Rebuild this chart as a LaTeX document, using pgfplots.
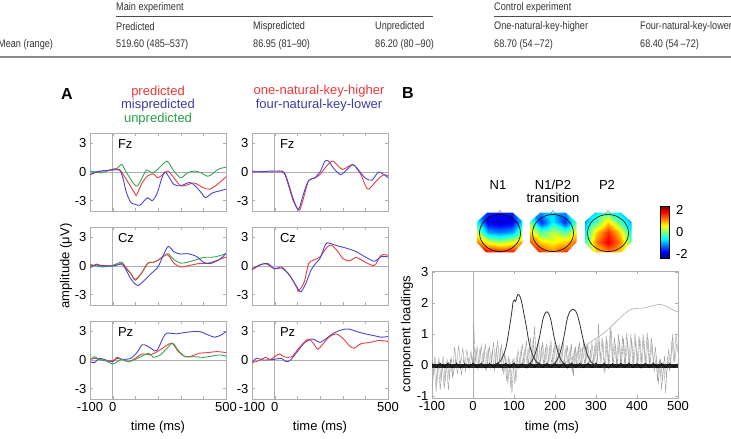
\documentclass[border=0pt]{standalone}
\usepackage{pgfplots}
\pgfplotsset{compat=1.18}
\usepackage{fontspec}
\setmainfont{Liberation Sans}
\newfontfamily\cond[FakeStretch=0.83]{Liberation Sans}
\definecolor{lred}{RGB}{232,60,60}
\definecolor{lblue}{RGB}{70,70,215}
\definecolor{lgreen}{RGB}{55,165,85}
\definecolor{tred}{RGB}{235,55,55}
\definecolor{tblue}{RGB}{60,60,165}
\definecolor{tgreen}{RGB}{40,160,70}
\definecolor{fgray}{RGB}{175,175,175}
\definecolor{ggray}{RGB}{160,160,160}
\newcommand{\fs}{\fontsize{13}{15}\selectfont}
\pgfplotsset{
 erp/.style={anchor=north west, scale only axis, width=136pt, height=78pt,
  xmin=-100,xmax=500,ymin=-4.1,ymax=4.1,
  xtick={-100,0,100,200,300,400,500}, xticklabels={}, ytick={-3,0,3}, yticklabels={-3,0,3},
  axis line style={draw=fgray}, tick style={fgray}, major tick length=3pt, tick align=inside,
  tick label style={font=\fs}, /pgf/number format/assume math mode=true,
  every axis plot/.append style={line width=0.9pt}},
 lastrow/.style={xticklabels={-100,0,,,,,500}},
 topo/.style={anchor=south west, scale only axis, width=47pt, height=41pt, hide axis,
  xmin=-1,xmax=1,ymin=-1,ymax=1, view={0}{90}, colormap/jet,
  point meta min=-2.35, point meta max=2.4, clip=false},
}
\newcommand{\zerolines}{%
 \addplot[fgray, line width=0.5pt] coordinates {(0,-4.1) (0,4.1)};
 \addplot[fgray, line width=0.5pt] coordinates {(-100,0) (500,0)};}
\newcommand{\topomask}{%
 \fill[white, even odd rule] (axis cs:-1.3,-1.3,0) rectangle (axis cs:1.3,1.3,0)
   (axis cs:-0.55,0.95,0) -- (axis cs:0.55,0.95,0) -- (axis cs:1,0.5,0) -- (axis cs:1,-0.5,0)
   -- (axis cs:0.6,-1,0) -- (axis cs:-0.6,-1,0) -- (axis cs:-1,-0.5,0) -- (axis cs:-1,0.5,0) -- cycle;
 \draw[black, line width=0.6pt] (axis cs:0,-0.05,0) ellipse [x radius=20.5pt, y radius=18.5pt];
 \draw[gray, line width=0.4pt] (axis cs:-0.1,0.9,0) -- (axis cs:0,1.05,0) -- (axis cs:0.1,0.9,0);}
\begin{document}
\begin{tikzpicture}
\path[use as bounding box] (0pt,0pt) rectangle (731pt,439pt);
% ---------------- table ----------------
\begin{scope}[every node/.style={font=\cond\fontsize{11}{13}\selectfont, text=black!80, anchor=west, inner sep=0pt}]
\node at (116pt,431.5pt) {Main experiment};
\node at (494pt,431.5pt) {Control experiment};
\draw[black!70, line width=0.6pt] (116pt,423pt) -- (433pt,423pt);
\draw[black!70, line width=0.6pt] (494pt,423pt) -- (731pt,423pt);
\node at (116pt,412pt) {Predicted};
\node at (253pt,412pt) {Mispredicted};
\node at (375pt,412pt) {Unpredicted};
\node at (494pt,412pt) {One-natural-key-higher};
\node at (640pt,412pt) {Four-natural-key-lower};
\node at (-2pt,394pt) {Mean (range)};
\node at (116pt,394pt) {519.60 (485–537)};
\node at (253pt,394pt) {86.95 (81–90)};
\node at (375pt,394pt) {86.20 (80\,–90)};
\node at (494pt,394pt) {68.70 (54\,–72)};
\node at (640pt,394pt) {68.40 (54\,–72)};
\draw[black!45, line width=1.8pt] (0pt,382pt) -- (731pt,382pt);
\end{scope}
% ---------------- labels ----------------
\node[font=\fontsize{16}{18}\selectfont\bfseries] at (67pt,345pt) {A};
\node[font=\fontsize{16}{18}\selectfont\bfseries] at (408pt,346pt) {B};
\node[font=\fs, text=tred] at (158pt,347pt) {predicted};
\node[font=\fs, text=tblue] at (158pt,334pt) {mispredicted};
\node[font=\fs, text=tgreen] at (158pt,320pt) {unpredicted};
\node[font=\fs, text=tred] at (319pt,348pt) {one-natural-key-higher};
\node[font=\fs, text=tblue] at (319pt,334pt) {four-natural-key-lower};
\node[font=\fs, rotate=90] at (66pt,173pt) {amplitude (μV)};
\node[font=\fs] at (158pt,12pt) {time (ms)};
\node[font=\fs] at (320pt,12pt) {time (ms)};
\node[font=\fs] at (552pt,12pt) {time (ms)};
\node[font=\fs, rotate=90] at (407pt,105pt) {component loadings};
\node[font=\fs] at (498pt,254pt) {N1};
\node[font=\fs] at (553pt,254pt) {N1/P2};
\node[font=\fs] at (553pt,241pt) {transition};
\node[font=\fs] at (607pt,254pt) {P2};
% ---------------- Panel A col 1 ----------------
\begin{axis}[erp, at={(90pt,306pt)}]
\zerolines
\node[font=\fs, anchor=west] at (axis cs:8,2.9) {Fz};
\addplot[lgreen, smooth] coordinates {(-100,0.1)(-75,0.0)(-50,-0.1)(-25,0.1)(0,0.3)(20,0.4)(40,0.8)(55,0.2)(75,-0.6)(95,-1.3)(110,-1.45)(130,-0.6)(150,0.2)(175,-0.1)(200,0.3)(220,0.8)(240,1.15)(255,0.7)(270,0.1)(300,-0.6)(330,-0.1)(360,0.1)(390,-0.1)(420,-0.45)(440,-0.2)(460,0.2)(480,0.4)(500,0.5)};
\addplot[lred, smooth] coordinates {(-100,-0.27)(-75,-0.05)(-50,0.1)(-25,0.15)(0,0.27)(30,0.27)(50,-0.4)(75,-1.35)(100,-2.35)(106,-2.4)(130,-1.15)(155,-0.4)(180,-0.2)(200,-0.6)(230,-0.1)(245,0.1)(270,-0.6)(300,-1.45)(330,-1.35)(360,-1.15)(400,-1.65)(430,-1.8)(470,-1.15)(500,-0.5)};
\addplot[lblue, smooth] coordinates {(-100,-0.3)(-75,0.0)(-50,0.1)(-25,0.15)(0,0.2)(30,0.2)(45,-0.6)(60,-2.1)(80,-3.2)(100,-3.4)(120,-3.5)(140,-3.0)(155,-2.7)(175,-3.0)(195,-2.3)(215,-0.8)(230,0.0)(245,-0.4)(270,-1.3)(300,-1.45)(340,-1.1)(370,-1.6)(395,-2.3)(410,-2.7)(440,-2.2)(470,-2.0)(500,-1.8)};
\end{axis}
\begin{axis}[erp, at={(90pt,212pt)}]
\zerolines
\node[font=\fs, anchor=west] at (axis cs:8,2.9) {Cz};
\addplot[lgreen, smooth] coordinates {(-100,0.18)(-50,-0.1)(0,0.07)(40,0.4)(60,-0.3)(80,-0.8)(100,-1.5)(130,-0.65)(155,0.3)(180,0.4)(200,0.6)(230,1.1)(245,1.3)(270,0.67)(300,0.3)(330,0.4)(370,0.67)(400,0.9)(450,0.95)(500,1.3)};
\addplot[lred, smooth] coordinates {(-100,0.07)(-50,0.07)(0,0)(40,0.25)(60,-0.2)(80,-0.8)(100,-1.4)(130,-0.65)(155,0.3)(180,0.4)(200,0.6)(240,1.2)(270,0.3)(300,-0.1)(340,0.07)(380,0.25)(420,0.3)(450,0.5)(500,0.95)};
\addplot[lblue, smooth] coordinates {(-100,-0.2)(-70,0.2)(-50,0)(0,0)(40,0.2)(60,-0.45)(80,-1.35)(110,-2.05)(140,-1.5)(170,-0.8)(200,-0.1)(220,0.95)(245,2.05)(270,1.5)(300,1.25)(330,1.3)(370,1.0)(400,0.4)(430,0.25)(470,0.67)(500,1.3)};
\end{axis}
\begin{axis}[erp, lastrow, at={(90pt,118pt)}]
\zerolines
\node[font=\fs, anchor=west] at (axis cs:8,2.9) {Pz};
\addplot[lblue, smooth] coordinates {(-100,-0.18)(-80,-0.28)(-60,0.18)(-30,0)(0,-0.18)(20,0.28)(40,0.07)(80,0.18)(110,0.88)(130,1.6)(150,1.5)(175,1.13)(195,1.0)(230,2.65)(250,2.83)(280,2.75)(320,2.9)(380,3.0)(420,2.65)(450,2.4)(480,2.65)(500,3.0)};
\addplot[lred, smooth] coordinates {(-100,0.07)(-70,0.18)(-40,-0.07)(0,-0.07)(20,0.18)(40,0.07)(70,-0.18)(100,0.18)(130,0.64)(160,0.53)(190,0.78)(220,1.24)(250,1.7)(265,1.7)(290,0.88)(320,0.35)(350,0.42)(380,0.7)(420,0.78)(460,0.88)(500,0.78)};
\addplot[lgreen, smooth] coordinates {(-100,0)(-80,0.35)(-60,0.05)(-30,-0.07)(0,-0.42)(20,-0.18)(40,0.07)(70,-0.18)(100,0.07)(130,0.42)(160,0.7)(180,0.28)(210,0.53)(240,1.24)(265,1.77)(290,1.0)(320,0.35)(360,0.35)(400,0.28)(440,0.42)(470,0.53)(500,0.42)};
\end{axis}
% ---------------- Panel A col 2 ----------------
\begin{axis}[erp, at={(252pt,306pt)}]
\zerolines
\node[font=\fs, anchor=west] at (axis cs:8,2.9) {Fz};
\addplot[lred, smooth] coordinates {(-100,0.1)(-50,0)(0,0)(40,-0.1)(60,-1.35)(80,-2.9)(100,-3.85)(112,-3.95)(130,-2.5)(150,-0.9)(175,-0.65)(200,-0.27)(230,0.65)(255,1.15)(280,0.65)(300,0.27)(330,0.65)(350,0.73)(380,-0.27)(400,-1.4)(415,-1.8)(450,-0.9)(480,-0.3)(500,-0.4)};
\addplot[lblue, smooth] coordinates {(-100,0)(-50,0.05)(0,0.1)(40,0)(60,-1.15)(80,-2.7)(100,-3.85)(110,-3.7)(130,-2.1)(150,-0.9)(175,-0.65)(200,0)(220,1.05)(235,1.2)(260,0.4)(290,-0.27)(320,0.27)(345,0.77)(370,0.2)(400,-0.65)(430,-0.85)(460,0)(500,-0.6)};
\end{axis}
\begin{axis}[erp, at={(252pt,212pt)}]
\zerolines
\node[font=\fs, anchor=west] at (axis cs:8,2.9) {Cz};
\addplot[lred, smooth] coordinates {(-100,-0.3)(-70,0.07)(-40,0.25)(0,-0.3)(30,-0.1)(60,-0.8)(80,-1.5)(100,-2.4)(105,-2.65)(130,-1.7)(150,0.25)(170,0.6)(200,0.95)(230,1.95)(250,2.2)(280,1.5)(300,0.8)(330,0.53)(360,0.9)(400,0.4)(440,0.07)(470,1.13)(500,1.13)};
\addplot[lblue, smooth] coordinates {(-100,-0.4)(-60,0.15)(-30,0.25)(0,-0.3)(30,-0.2)(60,-0.8)(80,-1.5)(110,-2.65)(120,-2.6)(140,-1.7)(160,-0.45)(180,0.25)(200,0.8)(225,2.3)(240,2.4)(280,2.1)(320,1.85)(360,1.5)(400,0.95)(440,0.5)(470,1.0)(500,0.95)};
\end{axis}
\begin{axis}[erp, lastrow, at={(252pt,118pt)}]
\zerolines
\node[font=\fs, anchor=west] at (axis cs:8,2.9) {Pz};
\addplot[lblue, smooth] coordinates {(-100,-0.28)(-80,0.18)(-50,0)(0,0.07)(30,0.18)(50,-0.18)(70,0)(100,0.88)(130,1.77)(160,2.2)(180,2.1)(200,1.85)(230,2.3)(260,2.83)(300,3.2)(330,3.25)(360,3.0)(400,2.75)(440,2.55)(470,2.4)(500,2.47)};
\addplot[lred, smooth] coordinates {(-100,-0.28)(-70,-0.07)(-40,0.28)(-20,0.05)(0,0.35)(20,0.64)(40,0.35)(60,0.28)(80,0.42)(100,1.06)(130,1.85)(150,2.2)(170,1.77)(190,1.13)(210,1.6)(240,2.4)(270,2.75)(300,2.3)(330,1.5)(350,1.24)(380,1.7)(420,1.85)(460,2.05)(500,1.95)};
\end{axis}
% ---------------- Panel B topomaps ----------------
\begin{axis}[topo, at={(476.5pt,186.5pt)}]
\addplot3[surf, shader=interp, mesh/cols=5] coordinates {
(-1,-1,1.8) (-0.5,-1,1.8) (0,-1,1.7) (0.5,-1,1.8) (1,-1,1.8)
(-1,-0.5,1.2) (-0.5,-0.5,0.5) (0,-0.5,0.2) (0.5,-0.5,0.5) (1,-0.5,1.2)
(-1,0,0.3) (-0.5,0,-1.0) (0,0,-1.2) (0.5,0,-1.0) (1,0,0.3)
(-1,0.5,-0.5) (-0.5,0.5,-1.9) (0,0.5,-2.0) (0.5,0.5,-1.9) (1,0.5,-0.5)
(-1,1,-0.8) (-0.5,1,-1.5) (0,1,-1.6) (0.5,1,-1.5) (1,1,-0.8)};
\topomask
\end{axis}
\begin{axis}[topo, at={(529.5pt,186.5pt)}]
\addplot3[surf, shader=interp, mesh/cols=5] coordinates {
(-1,-1,1.8) (-0.5,-1,1.6) (0,-1,1.2) (0.5,-1,1.6) (1,-1,1.8)
(-1,-0.5,1.4) (-0.5,-0.5,0.8) (0,-0.5,0.6) (0.5,-0.5,0.8) (1,-0.5,1.4)
(-1,0,0.8) (-0.5,0,-0.2) (0,0,0.3) (0.5,0,-0.2) (1,0,0.8)
(-1,0.5,0.0) (-0.5,0.5,-1.6) (0,0.5,-0.6) (0.5,0.5,-1.6) (1,0.5,0.0)
(-1,1,-0.5) (-0.5,1,-1.0) (0,1,-0.8) (0.5,1,-1.0) (1,1,-0.5)};
\topomask
\end{axis}
\begin{axis}[topo, at={(584.5pt,186.5pt)}]
\addplot3[surf, shader=interp, mesh/cols=5] coordinates {
(-1,-1,0.0) (-0.5,-1,0.8) (0,-1,1.2) (0.5,-1,0.8) (1,-1,0.0)
(-1,-0.5,-0.3) (-0.5,-0.5,1.2) (0,-0.5,1.9) (0.5,-0.5,1.2) (1,-0.5,-0.3)
(-1,0,-0.7) (-0.5,0,0.8) (0,0,1.6) (0.5,0,0.8) (1,0,-0.7)
(-1,0.5,-1.0) (-0.5,0.5,-0.2) (0,0.5,0.8) (0.5,0.5,-0.2) (1,0.5,-1.0)
(-1,1,-1.2) (-0.5,1,-0.8) (0,1,-0.4) (0.5,1,-0.8) (1,1,-1.2)};
\topomask
\end{axis}
% colorbar
\begin{axis}[hide axis, scale only axis, width=0pt, height=52pt, anchor=south west, at={(652pt,181pt)},
  colormap/jet, point meta min=-2.35, point meta max=2.4, colorbar,
  colorbar style={at={(parent axis.south west)}, anchor=south west, scale only axis, width=9pt, height=52pt,
   ytick={-2,0,2}, yticklabels={-2,0,2}, ytick style={draw=none},
   yticklabel style={font=\fs, xshift=3pt}, /pgf/number format/assume math mode=true,
   axis line style={black, line width=0.5pt}}]
\addplot[draw=none] coordinates {(0,0)};
\end{axis}
% ---------------- Panel B loadings ----------------
\begin{axis}[anchor=south west, at={(432pt,41pt)}, scale only axis, width=246pt, height=127pt,
  xmin=-100, xmax=500, ymin=-1.05, ymax=3.03,
  xtick={-100,0,100,200,300,400,500}, xticklabels={-100,0,100,200,300,400,500},
  ytick={-1,0,1,2,3}, yticklabels={-1,0,1,2,3},
  axis line style={draw=fgray}, tick style={fgray}, major tick length=3pt, tick align=inside,
  tick label style={font=\fs}, /pgf/number format/assume math mode=true]
\addplot[fgray, line width=0.5pt] coordinates {(0,-1.05) (0,3.03)};
\addplot[ggray, line width=0.4pt] coordinates {(-100,-0.80)(-95,0.10)(-90,-0.85)(-85,0.15)(-80,-0.80)(-75,0.05)(-70,-0.75)(-65,0.10)(-60,-0.80)(-55,0.20)(-50,-0.40)(-45,0.60)(-40,0.00)(-35,0.62)(-30,0.02)(-25,0.55)(-20,0.00)(-15,0.50)(-10,0.05)(-5,0.45)(0,0.00)(2,1.35)(5,0.05)(10,0.60)(15,0.00)(20,0.65)(25,0.05)(30,0.70)(35,0.00)(40,0.60)(45,0.05)(50,0.75)(55,0.00)(60,0.80)(65,0.10)(70,0.70)(75,-0.30)(80,0.30)(85,-0.60)(90,0.20)(95,-0.90)(100,0.25)(105,-0.50)(110,0.50)(115,0.00)(120,0.70)(125,0.05)(130,0.80)(135,0.00)(140,0.90)(145,0.05)(150,1.25)(155,0.00)(160,0.85)(165,0.05)(170,0.75)(175,0.00)(180,0.70)(185,0.05)(190,0.80)(195,0.00)(200,0.75)(205,-0.05)(210,0.70)(215,0.00)(220,0.80)(225,-0.10)(230,0.65)(235,-0.05)(240,0.70)(245,-0.35)(250,0.60)(255,-0.10)(260,0.75)(265,0.00)(270,0.80)(275,0.05)(280,0.70)(285,0.00)(290,0.75)(295,0.05)(300,0.85)(303,0.15)(306,1.35)(310,0.20)(315,0.90)(320,-0.25)(325,0.95)(330,0.00)(335,1.20)(340,0.10)(345,0.90)(350,0.00)(355,1.00)(360,0.05)(365,0.95)(370,0.00)(375,1.05)(380,0.05)(385,1.00)(390,0.00)(395,1.05)(400,0.05)(405,0.95)(410,0.00)(415,1.00)(420,0.05)(425,1.05)(430,0.00)(435,0.90)(440,0.05)(445,0.60)(450,-0.50)(455,0.20)(460,-0.80)(465,0.10)(470,-0.90)(475,0.30)(480,-0.20)(485,0.80)(490,0.10)(495,1.00)(500,0.40)};
\addplot[ggray, line width=0.4pt] coordinates {(-98,-0.5)(-93,0.3)(-88,-0.6)(-83,0.25)(-78,-0.5)(-73,0.3)(-68,-0.55)(-63,0.2)(-58,-0.45)(-53,0.25)(-48,-0.3)(-43,0.2)(-38,-0.25)(-33,0.15)(-28,-0.3)(-23,0.2)(-18,-0.2)(-13,0.25)(-8,-0.1)(-3,0.3)(2,-0.1)(7,0.5)(12,-0.15)(17,0.55)(22,-0.1)(27,0.5)(32,-0.2)(37,0.55)(42,-0.1)(47,0.5)(52,-0.2)(57,0.6)(62,-0.1)(67,0.55)(72,-0.2)(77,0.4)(82,-0.5)(87,0.3)(92,-0.7)(97,0.2)(102,-0.6)(107,0.3)(112,-0.1)(117,0.5)(122,0.0)(127,0.55)(132,0.05)(137,0.6)(142,0.0)(147,0.9)(152,0.05)(157,0.55)(162,0.0)(167,0.6)(172,0.05)(177,0.55)(182,0.0)(187,0.6)(192,0.05)(197,0.55)(202,0.0)(207,0.6)(212,0.0)(217,0.5)(222,-0.05)(227,0.6)(232,0.0)(237,0.55)(242,-0.25)(247,0.5)(252,0.0)(257,0.6)(262,0.0)(267,0.55)(272,0.05)(277,0.6)(282,0.0)(287,0.5)(292,0.05)(297,0.6)(302,0.0)(307,0.8)(312,0.05)(317,0.75)(322,-0.2)(327,0.8)(332,0.0)(337,1.15)(342,0.0)(347,0.7)(352,0.05)(357,0.8)(362,0.0)(367,0.85)(372,0.05)(377,0.8)(382,0.0)(387,0.85)(392,0.05)(397,0.8)(402,0.0)(407,0.85)(412,0.05)(417,0.8)(422,0.0)(427,0.85)(432,0.05)(437,0.7)(442,-0.2)(447,0.3)(452,-0.6)(457,0.2)(462,-0.5)(467,0.3)(472,-0.4)(477,0.5)(482,0.0)(487,1.0)(492,0.1)(497,0.7)};
\addplot[ggray, line width=0.5pt, smooth] coordinates {(215,0)(230,0.12)(245,0.28)(260,0.45)(278,0.66)(295,0.82)(310,0.95)(327,1.12)(345,1.35)(359,1.53)(372,1.68)(384,1.79)(400,1.83)(415,1.84)(424,1.86)(440,1.92)(457,1.96)(465,1.93)(473,1.89)(485,1.8)(500,1.71)};
\addplot[black!85, line width=3.5pt] coordinates {(-100,-0.02) (500,-0.02)};
\addplot[black, line width=0.5pt] coordinates {(-100,0.06)(-90,-0.08)(-80,0.07)(-70,-0.07)(-60,0.08)(-50,-0.08)(-40,0.07)(-30,-0.09)(-20,0.06)(-10,-0.07)(0,0.08)(10,-0.08)(20,0.07)(30,-0.09)(40,0.06)(50,-0.07)(60,0.08)(70,-0.08)(80,0.07)(90,-0.07)(100,0.08)(110,-0.08)(120,0.06)(130,-0.09)(140,0.07)(150,-0.07)(160,0.08)(170,-0.08)(180,0.07)(190,-0.07)(200,0.06)(210,-0.08)(220,0.07)(230,-0.09)(240,0.08)(250,-0.07)(260,0.06)(270,-0.08)(280,0.07)(290,-0.08)(300,0.08)(310,-0.07)(320,0.07)(330,-0.09)(340,0.06)(350,-0.08)(360,0.07)(370,-0.07)(380,0.08)(390,-0.08)(400,0.06)(410,-0.09)(420,0.07)(430,-0.07)(440,0.08)(450,-0.08)(460,0.07)(470,-0.08)(480,0.06)(490,-0.07)(500,0.05)};
\addplot[black!80, line width=0.8pt, smooth] coordinates {(45,0.0)(50,0.03)(60,0.06)(70,0.2)(80,0.55)(85,0.9)(90,1.3)(95,1.75)(98,2.05)(101,2.1)(104,2.05)(107,2.2)(110,2.28)(115,2.2)(120,1.95)(125,1.6)(130,1.25)(135,0.85)(140,0.55)(150,0.2)(160,0.06)(170,0.0)};
\addplot[black!80, line width=0.8pt, smooth] coordinates {(125,0.0)(130,0.01)(140,0.08)(150,0.3)(160,0.78)(165,1.1)(170,1.45)(175,1.65)(180,1.72)(185,1.65)(190,1.45)(195,1.1)(200,0.78)(210,0.3)(220,0.08)(230,0.01)(235,0.0)};
\addplot[black!80, line width=0.8pt, smooth] coordinates {(185,0.0)(190,0.01)(200,0.08)(210,0.3)(220,0.8)(225,1.15)(230,1.5)(235,1.7)(240,1.78)(245,1.8)(250,1.75)(255,1.6)(260,1.35)(265,1.05)(270,0.75)(280,0.3)(290,0.08)(300,0.01)(305,0.0)};
\end{axis}
\end{tikzpicture}
\end{document}
